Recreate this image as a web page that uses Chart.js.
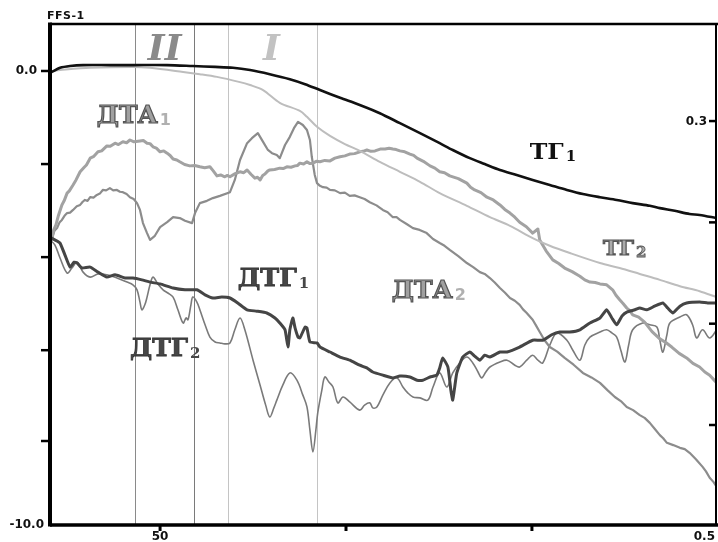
<!DOCTYPE html>
<html>
<head>
<meta charset="utf-8">
<script src="https://cdn.jsdelivr.net/npm/chart.js@4.4.1/dist/chart.umd.min.js"></script>
<style>
  html, body { margin: 0; padding: 0; background: #fff; }
  #wrap { width: 718px; height: 542px; }
</style>
</head>
<body>
<div id="wrap"><canvas id="c" width="718" height="542"></canvas></div>
<script>
// ---- series: [x, y] pairs, x in scale units, y in signal units ----
const tg1 = [[20.9,-0.02],[23.1,0.07],[25.8,0.11],[29.3,0.13],[36.5,0.13],[42.7,0.13],[51.9,0.13],[58.8,0.11],[64.8,0.09],[69.6,0.07],[74.2,0.02],[79.5,-0.07],[84.9,-0.18],[89.0,-0.29],[93.0,-0.42],[98.4,-0.59],[103.7,-0.75],[109.1,-0.93],[114.5,-1.15],[119.9,-1.37],[125.2,-1.59],[128.7,-1.74],[133.3,-1.92],[137.3,-2.05],[141.4,-2.18],[145.9,-2.29],[150.2,-2.40],[154.8,-2.51],[159.4,-2.62],[163.7,-2.71],[168.3,-2.78],[172.8,-2.84],[177.1,-2.91],[181.7,-2.97],[184.4,-3.02],[188.4,-3.08],[192.4,-3.15],[195.1,-3.17],[199.7,-3.24]];

const tg2 = [[20.9,0],[23.1,0.02],[31.2,0.07],[42.7,0.09],[47.3,0.07],[56.2,-0.02],[60.7,-0.07],[65.3,-0.13],[71.2,-0.24],[74.2,-0.31],[77.7,-0.42],[82.2,-0.70],[87.6,-0.88],[89.5,-1.01],[92.2,-1.23],[95.7,-1.43],[99.7,-1.61],[103.7,-1.76],[109.1,-2.00],[114.5,-2.22],[119.9,-2.44],[125.2,-2.69],[132.5,-2.97],[138.7,-3.22],[144.1,-3.41],[150.2,-3.68],[154.8,-3.85],[160.2,-4.01],[168.3,-4.23],[173.6,-4.34],[179.0,-4.47],[184.4,-4.60],[189.8,-4.74],[195.1,-4.85],[199.7,-4.98]];

const dta1 = [[20.9,-3.72],[21.4,-3.50],[22.0,-3.39],[22.6,-3.20],[23.6,-2.95],[24.2,-2.86],[25.0,-2.69],[25.6,-2.64],[26.6,-2.51],[27.4,-2.40],[28.5,-2.22],[29.6,-2.12],[30.2,-2.07],[31.2,-1.92],[32.2,-1.88],[33.3,-1.78],[34.3,-1.76],[35.7,-1.65],[36.6,-1.66],[37.9,-1.59],[38.8,-1.62],[40.0,-1.56],[41.0,-1.58],[41.9,-1.52],[43.0,-1.56],[44.6,-1.54],[45.5,-1.53],[46.5,-1.59],[47.3,-1.60],[48.1,-1.67],[49.0,-1.70],[50.0,-1.78],[51.0,-1.76],[51.9,-1.81],[52.7,-1.86],[53.5,-1.94],[54.5,-1.96],[55.3,-2.00],[56.6,-2.06],[58.0,-2.09],[59.3,-2.08],[60.7,-2.11],[62.0,-2.13],[63.4,-2.11],[64.3,-2.20],[65.3,-2.31],[66.3,-2.29],[67.4,-2.33],[68.1,-2.30],[68.8,-2.33],[70.2,-2.26],[71.5,-2.22],[72.5,-2.24],[73.4,-2.18],[74.5,-2.28],[75.5,-2.36],[76.2,-2.34],[76.9,-2.40],[77.6,-2.30],[78.2,-2.27],[79.0,-2.20],[79.5,-2.18],[80.8,-2.17],[82.2,-2.14],[83.1,-2.15],[84.1,-2.11],[85.2,-2.12],[86.3,-2.09],[87.0,-2.08],[87.6,-2.03],[88.6,-2.05],[89.5,-2.00],[90.3,-2.04],[91.1,-2.03],[92.0,-1.99],[93.0,-2.00],[94.3,-1.97],[95.7,-1.98],[97.0,-1.92],[98.4,-1.89],[99.7,-1.87],[101.0,-1.83],[102.3,-1.82],[103.7,-1.78],[104.6,-1.77],[105.6,-1.74],[106.7,-1.77],[107.8,-1.76],[109.2,-1.72],[110.5,-1.72],[111.6,-1.70],[112.6,-1.72],[113.5,-1.73],[114.5,-1.76],[115.8,-1.78],[117.2,-1.83],[118.2,-1.86],[119.1,-1.92],[120.8,-1.99],[122.6,-2.09],[123.9,-2.14],[125.2,-2.22],[126.5,-2.24],[127.9,-2.31],[130.2,-2.37],[132.5,-2.47],[133.5,-2.56],[134.6,-2.62],[136.3,-2.68],[137.9,-2.78],[139.6,-2.84],[141.4,-2.95],[142.7,-3.05],[144.1,-3.13],[145.4,-3.22],[146.7,-3.33],[148.5,-3.43],[150.2,-3.57],[151.6,-3.48],[152.1,-3.72],[153.8,-3.96],[155.6,-4.16],[157.2,-4.24],[158.8,-4.34],[160.8,-4.42],[162.9,-4.52],[164.2,-4.60],[165.6,-4.65],[167.0,-4.66],[168.3,-4.69],[170.1,-4.71],[171.7,-4.82],[172.6,-4.94],[173.6,-5.04],[174.5,-5.12],[175.5,-5.22],[176.3,-5.28],[177.1,-5.37],[178.7,-5.42],[180.3,-5.53],[182.3,-5.74],[184.4,-5.90],[186.0,-5.98],[187.6,-6.08],[189.6,-6.22],[191.6,-6.32],[193.3,-6.44],[195.1,-6.52],[196.5,-6.63],[197.8,-6.70],[199.7,-6.87]];

const dta2 = [[20.9,-3.68],[21.6,-3.52],[22.3,-3.46],[23.0,-3.33],[23.6,-3.28],[24.3,-3.19],[25.0,-3.13],[25.8,-3.12],[26.6,-3.06],[27.6,-2.98],[28.5,-2.95],[29.2,-2.88],[29.8,-2.84],[30.5,-2.86],[31.2,-2.78],[32.1,-2.79],[33.0,-2.73],[33.8,-2.70],[34.6,-2.62],[35.5,-2.63],[36.5,-2.58],[37.4,-2.63],[38.4,-2.62],[39.2,-2.66],[40.0,-2.67],[41.0,-2.71],[41.9,-2.78],[42.9,-2.82],[43.8,-2.91],[44.6,-3.06],[45.4,-3.35],[46.5,-3.57],[47.3,-3.72],[48.6,-3.63],[50.0,-3.44],[51.9,-3.33],[53.5,-3.22],[55.3,-3.24],[56.7,-3.30],[58.6,-3.35],[59.4,-3.13],[60.7,-2.91],[62.6,-2.86],[64.2,-2.80],[66.1,-2.75],[68.8,-2.67],[70.1,-2.40],[71.5,-1.96],[73.4,-1.59],[74.7,-1.48],[76.3,-1.37],[77.7,-1.56],[79.0,-1.74],[80.1,-1.81],[81.4,-1.85],[82.2,-1.92],[83.6,-1.63],[84.9,-1.45],[86.0,-1.26],[87.1,-1.12],[88.4,-1.19],[89.5,-1.30],[90.3,-1.52],[90.8,-1.89],[91.6,-2.29],[92.2,-2.47],[93.0,-2.53],[93.8,-2.56],[94.8,-2.57],[95.7,-2.62],[97.0,-2.63],[98.4,-2.69],[99.7,-2.68],[101.0,-2.75],[102.3,-2.74],[103.7,-2.78],[105.0,-2.82],[106.4,-2.89],[108.2,-2.96],[109.9,-3.06],[111.2,-3.11],[112.6,-3.22],[113.6,-3.22],[114.5,-3.28],[116.3,-3.37],[118.0,-3.46],[119.8,-3.50],[121.7,-3.57],[123.4,-3.70],[125.2,-3.79],[126.5,-3.85],[127.9,-3.94],[130.2,-4.08],[132.5,-4.23],[134.2,-4.32],[136.0,-4.43],[137.3,-4.47],[138.7,-4.56],[140.0,-4.66],[141.4,-4.78],[142.7,-4.88],[144.1,-5.00],[145.4,-5.06],[146.7,-5.15],[147.6,-5.25],[148.6,-5.33],[150.2,-5.48],[151.2,-5.62],[152.1,-5.75],[153.4,-5.93],[154.8,-6.08],[156.8,-6.18],[158.8,-6.32],[161.2,-6.47],[163.7,-6.65],[166.0,-6.75],[168.3,-6.87],[170.3,-7.03],[172.3,-7.18],[173.9,-7.27],[175.5,-7.40],[177.2,-7.47],[179.0,-7.58],[180.3,-7.64],[181.7,-7.75],[183.0,-7.88],[184.4,-8.02],[185.3,-8.09],[186.3,-8.19],[188.0,-8.24],[189.8,-8.30],[191.1,-8.33],[192.4,-8.41],[194.1,-8.55],[195.9,-8.72],[196.8,-8.82],[197.8,-8.96],[198.8,-9.05],[199.7,-9.16]];

const dtg1 = [[20.4,-3.66],[21.7,-3.72],[23.1,-3.79],[24.4,-4.05],[25.8,-4.32],[26.9,-4.21],[27.7,-4.23],[29.0,-4.34],[31.2,-4.32],[33.3,-4.43],[35.7,-4.54],[37.9,-4.49],[40.6,-4.56],[42.7,-4.56],[45.1,-4.60],[47.3,-4.65],[50.0,-4.69],[53.5,-4.78],[56.7,-4.82],[59.9,-4.82],[62.1,-4.93],[64.2,-5.00],[66.6,-4.98],[68.8,-5.00],[70.9,-5.11],[73.4,-5.26],[76.0,-5.29],[78.7,-5.33],[80.9,-5.44],[82.2,-5.55],[83.6,-5.70],[84.4,-6.08],[84.9,-5.70],[85.7,-5.44],[86.3,-5.66],[87.1,-5.86],[87.6,-5.88],[89.0,-5.64],[89.5,-5.66],[90.3,-5.97],[92.2,-5.99],[93.0,-6.08],[95.7,-6.19],[98.4,-6.30],[101.0,-6.37],[103.7,-6.48],[105.6,-6.54],[107.2,-6.63],[109.9,-6.70],[112.6,-6.76],[114.5,-6.72],[117.2,-6.74],[119.1,-6.81],[120.7,-6.81],[122.6,-6.74],[124.4,-6.70],[125.2,-6.54],[126.0,-6.32],[127.4,-6.52],[128.2,-7.03],[128.7,-7.25],[129.3,-6.92],[129.8,-6.65],[131.4,-6.30],[133.3,-6.19],[134.6,-6.28],[136.0,-6.37],[137.3,-6.26],[138.7,-6.30],[141.4,-6.19],[143.3,-6.19],[146.7,-6.08],[150.2,-5.93],[152.9,-5.93],[155.3,-5.81],[157.5,-5.75],[160.2,-5.75],[162.9,-5.70],[165.6,-5.55],[168.3,-5.44],[170.1,-5.26],[171.5,-5.44],[172.8,-5.59],[174.2,-5.40],[175.5,-5.31],[177.7,-5.26],[179.0,-5.22],[180.9,-5.26],[183.0,-5.18],[185.2,-5.11],[186.5,-5.22],[187.9,-5.33],[189.8,-5.18],[191.6,-5.11],[195.1,-5.09],[197.3,-5.11],[199.7,-5.11]];

const dtg2 = [[20.4,-3.72],[21.7,-3.83],[23.1,-4.12],[25.0,-4.45],[26.3,-4.34],[27.7,-4.21],[29.3,-4.43],[31.2,-4.54],[33.3,-4.47],[35.7,-4.49],[38.4,-4.56],[41.1,-4.65],[42.7,-4.71],[43.8,-4.82],[44.6,-5.09],[45.1,-5.26],[45.9,-5.15],[46.5,-4.98],[47.3,-4.71],[48.1,-4.54],[49.4,-4.69],[50.8,-4.82],[52.1,-4.89],[53.5,-4.98],[54.8,-5.26],[56.2,-5.55],[57.0,-5.44],[57.5,-5.48],[58.3,-5.15],[58.8,-4.98],[59.9,-5.09],[60.7,-5.26],[62.1,-5.59],[63.4,-5.86],[64.8,-5.97],[66.1,-5.99],[67.4,-6.01],[68.8,-5.99],[70.1,-5.70],[71.5,-5.44],[72.8,-5.70],[75.0,-6.37],[76.9,-6.92],[78.4,-7.36],[79.5,-7.62],[80.6,-7.42],[81.4,-7.25],[83.0,-6.92],[84.9,-6.65],[86.8,-6.81],[88.4,-7.14],[89.5,-7.40],[90.3,-7.91],[91.1,-8.39],[91.9,-7.91],[92.4,-7.53],[93.5,-7.03],[94.3,-6.74],[95.4,-6.85],[96.5,-6.96],[97.8,-7.31],[99.2,-7.18],[101.0,-7.29],[103.7,-7.47],[105.0,-7.36],[106.4,-7.31],[107.2,-7.42],[108.3,-7.40],[109.9,-7.14],[111.8,-6.87],[113.7,-6.76],[115.3,-6.96],[116.6,-7.09],[118.0,-7.18],[119.9,-7.20],[122.0,-7.25],[123.4,-6.96],[125.2,-6.65],[127.1,-6.96],[128.7,-6.65],[130.6,-6.43],[132.5,-6.30],[134.1,-6.43],[135.5,-6.63],[136.5,-6.76],[137.6,-6.63],[138.7,-6.52],[141.4,-6.41],[143.3,-6.37],[145.4,-6.48],[146.7,-6.52],[148.6,-6.37],[150.2,-6.26],[151.6,-6.37],[152.9,-6.43],[154.8,-6.04],[156.7,-5.77],[159.4,-5.93],[161.0,-6.15],[162.9,-6.37],[164.2,-6.04],[165.6,-5.86],[168.3,-5.75],[170.1,-5.70],[171.5,-5.77],[172.8,-5.86],[173.9,-6.15],[175.0,-6.41],[176.0,-6.04],[177.1,-5.70],[179.8,-5.55],[181.7,-5.59],[183.6,-5.64],[184.4,-5.93],[185.2,-6.19],[186.3,-5.81],[187.1,-5.55],[189.8,-5.42],[191.6,-5.37],[193.2,-5.59],[194.3,-5.88],[195.9,-5.70],[197.8,-5.88],[199.7,-5.70]];

// stage boundaries (x units)
const stageLinesX = [43.3, 59.1, 68.2, 92.2];

// axis ticks
const xTickValues = [50, 100, 150, 200];
const xTickText   = ['50', '', '', '0.5'];
const yTickValues = [0, -2.05, -4.1, -6.15, -8.15, -10];
const yTickText   = ['0.0', '', '', '', '', '-10.0'];
const y2TickValues = [0.3, 0.2, 0.1, 0.0];
const y2TickText   = ['0.3', '', '', ''];

const stageLineColors = ['#8a8a8a', '#7a7a7a', '#c4c4c4', '#c4c4c4'];

const pts = arr => arr.map(([x, y]) => ({ x, y }));
const line = (data, color, width, tension) => ({
  data: pts(data), borderColor: color, borderWidth: width, pointRadius: 0,
  tension: tension, fill: false, borderJoinStyle: 'round', borderCapStyle: 'round'
});

// curve captions, anchored in data coordinates
const captions = [
  { text: 'ДТА', sub: '1', x: 33.0,  y: -0.95, size: 24, width: 61, fill: '#a0a0a0', stroke: '#555', sw: 1.2, subFill: '#b0b0b0', subFont: 'bold 16px "DejaVu Sans"' },
  { text: 'ТГ',  sub: '1', x: 149.4, y: -1.76, size: 23, width: 34, fill: '#111',    subFill: '#111', subFont: 'bold 15px "DejaVu Serif"' },
  { text: 'ТГ',  sub: '2', x: 169.1, y: -3.88, size: 21, width: 31, fill: '#ababab', stroke: '#555', sw: 1.2, subFill: '#ababab', subStroke: '#555', subFont: 'bold 15px "DejaVu Serif"' },
  { text: 'ДТГ', sub: '1', x: 70.9,  y: -4.54, size: 24, width: 59, fill: '#474747', stroke: '#333', sw: 0.8, subFill: '#474747', subFont: 'bold 15px "DejaVu Serif"' },
  { text: 'ДТГ', sub: '2', x: 41.9,  y: -6.08, size: 24, width: 58, fill: '#474747', stroke: '#333', sw: 0.8, subFill: '#474747', subFont: 'bold 15px "DejaVu Serif"' },
  { text: 'ДТА', sub: '2', x: 112.3, y: -4.82, size: 24, width: 61, fill: '#a0a0a0', stroke: '#555', sw: 1.2, subFill: '#b0b0b0', subFont: 'bold 16px "DejaVu Sans"' },
  { text: 'II',  x: 46.7, y: 0.53, size: 36, italic: true, fill: '#8a8a8a' },
  { text: 'I',   x: 77.7, y: 0.53, size: 36, italic: true, fill: '#c2c2c2' }
];

function drawCaption(ctx, c, px, py) {
  ctx.save();
  ctx.font = (c.italic ? 'italic ' : '') + 'bold ' + c.size + 'px "DejaVu Serif"';
  ctx.textBaseline = 'alphabetic';
  ctx.textAlign = 'left';
  const w = ctx.measureText(c.text).width;
  const sx = c.width ? c.width / w : 1;
  const base = py + c.size * 0.36;
  ctx.translate(px, base);
  ctx.scale(sx, 1);
  ctx.fillStyle = c.fill;
  ctx.fillText(c.text, 0, 0);
  if (c.stroke) {
    ctx.lineWidth = c.sw;
    ctx.strokeStyle = c.stroke;
    ctx.strokeText(c.text, 0, 0);
  }
  ctx.restore();
  if (c.sub) {
    ctx.save();
    ctx.font = c.subFont;
    ctx.textBaseline = 'alphabetic';
    ctx.fillStyle = c.subFill;
    const sxp = px + w * sx + 2;
    ctx.fillText(c.sub, sxp, base + 2);
    if (c.subStroke) {
      ctx.lineWidth = 0.8;
      ctx.strokeStyle = c.subStroke;
      ctx.strokeText(c.sub, sxp, base + 2);
    }
    ctx.restore();
  }
}

const framePlugin = {
  id: 'frame',
  beforeDatasetsDraw(chart) {
    const { ctx, chartArea: a, scales: { x } } = chart;
    ctx.save();
    ctx.lineWidth = 1;
    stageLinesX.forEach((v, i) => {
      const px = Math.round(x.getPixelForValue(v)) + 0.5;
      ctx.strokeStyle = stageLineColors[i];
      ctx.beginPath();
      ctx.moveTo(px, a.top);
      ctx.lineTo(px, a.bottom);
      ctx.stroke();
    });
    ctx.restore();
  },
  afterDatasetsDraw(chart) {
    const { ctx, scales: { x, y } } = chart;
    captions.forEach(c => drawCaption(ctx, c, x.getPixelForValue(c.x), y.getPixelForValue(c.y)));
  },
  afterDraw(chart) {
    const { ctx, chartArea: a, scales: { x, y, y2 } } = chart;
    ctx.save();
    ctx.strokeStyle = '#000';
    ctx.lineCap = 'butt';
    // frame
    ctx.lineWidth = 2.5;
    ctx.beginPath(); ctx.moveTo(a.left, a.top); ctx.lineTo(718, a.top); ctx.stroke();
    ctx.lineWidth = 2;
    ctx.beginPath(); ctx.moveTo(a.right, a.top); ctx.lineTo(a.right, a.bottom); ctx.stroke();
    ctx.lineWidth = 3.5;
    ctx.beginPath(); ctx.moveTo(a.left, a.bottom); ctx.lineTo(718, a.bottom); ctx.stroke();
    ctx.lineWidth = 4;
    ctx.beginPath(); ctx.moveTo(a.left, a.top - 1.5); ctx.lineTo(a.left, a.bottom + 1.5); ctx.stroke();

    ctx.fillStyle = '#111';
    ctx.font = 'bold 12px "DejaVu Sans"';
    ctx.textBaseline = 'middle';

    // left axis
    yTickValues.forEach((v, i) => {
      const py = y.getPixelForValue(v);
      const atEnd = v <= y.min;
      if (!atEnd) {
        ctx.lineWidth = 2.5;
        ctx.beginPath(); ctx.moveTo(a.left - 9, py); ctx.lineTo(a.left, py); ctx.stroke();
      }
      if (yTickText[i]) {
        ctx.textAlign = 'right';
        ctx.fillText(yTickText[i], atEnd ? a.left - 6 : a.left - 13, py);
      }
    });

    // bottom axis
    xTickValues.forEach((v, i) => {
      const px = x.getPixelForValue(v);
      const nearRight = px > a.right - 8;
      if (!nearRight) {
        ctx.lineWidth = 3;
        ctx.beginPath(); ctx.moveTo(px, a.bottom); ctx.lineTo(px, a.bottom + 6); ctx.stroke();
      }
      if (xTickText[i]) {
        ctx.textAlign = nearRight ? 'right' : 'center';
        ctx.fillText(xTickText[i], nearRight ? a.right - 1 : px, a.bottom + 12);
      }
    });

    // right axis, ticks pointing inward
    y2TickValues.forEach((v, i) => {
      const py = y2.getPixelForValue(v);
      ctx.lineWidth = 2.5;
      ctx.beginPath(); ctx.moveTo(a.right - 7, py); ctx.lineTo(a.right, py); ctx.stroke();
      if (y2TickText[i]) {
        ctx.textAlign = 'right';
        ctx.fillText(y2TickText[i], a.right - 9, py + 1);
      }
    });

    // axis title
    ctx.font = 'bold 11px "DejaVu Sans"';
    ctx.textAlign = 'left';
    ctx.letterSpacing = '0.5px';
    ctx.fillText('FFS-1', a.left - 3, 16);
    ctx.restore();
  }
};

new Chart(document.getElementById('c'), {
  type: 'line',
  data: {
    datasets: [
      line(tg1,  '#111111', 2.6, 0.3),
      line(dtg1, '#454545', 3.0, 0.15),
      line(tg2,  '#bdbdbd', 2.0, 0.3),
      line(dta1, '#a2a2a2', 3.0, 0),
      line(dta2, '#8c8c8c', 2.2, 0),
      line(dtg2, '#7a7a7a', 1.6, 0.35)
    ]
  },
  options: {
    responsive: false,
    animation: false,
    devicePixelRatio: 1,
    layout: { padding: { left: 50, right: 2, top: 24, bottom: 17 } },
    plugins: { legend: { display: false }, tooltip: { enabled: false } },
    scales: {
      x:  { type: 'linear', min: 20.4, max: 199.5, display: false },
      y:  { type: 'linear', min: -10, max: 1.035, display: false },
      y2: { type: 'linear', position: 'right', min: -0.0987, max: 0.3958, display: false }
    }
  },
  plugins: [framePlugin]
});
</script>
</body>
</html>
